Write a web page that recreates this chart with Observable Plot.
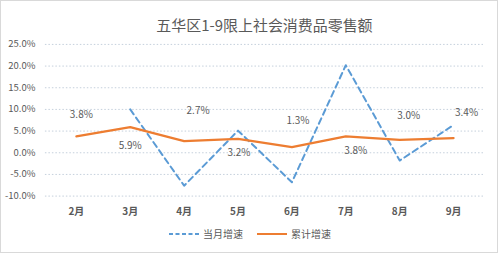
<!DOCTYPE html>
<html><head><meta charset="utf-8">
<script src="https://cdn.jsdelivr.net/npm/d3@7"></script>
<script src="https://cdn.jsdelivr.net/npm/@observablehq/plot@0.6"></script>
<style>
html,body{margin:0;padding:0;background:#fff;}
#wrap{position:relative;width:498px;height:253px;box-sizing:border-box;border:1px solid #d9d9d9;overflow:hidden;font-family:"Noto Sans CJK SC","Noto Sans",sans-serif;}
#chart{position:absolute;left:-1px;top:-1px;}
#legend{position:absolute;left:0;top:225px;width:498px;display:flex;justify-content:center;align-items:center;font-size:10px;color:#595959;}
#legend .item{display:flex;align-items:center;margin:0 7px;}
#legend svg{margin-right:4px;}
</style></head>
<body><div id="wrap"><div id="chart"></div><div id="legend"></div></div>
<script>
const title = "五华区1-9限上社会消费品零售额";
const months = ["2月","3月","4月","5月","6月","7月","8月","9月"];
const monthlyGrowth = [null, 10.0, -7.6, 5.1, -6.8, 20.2, -1.8, 6.4];
const cumulativeGrowth = [3.8, 5.9, 2.7, 3.2, 1.3, 3.8, 3.0, 3.4];
const yTicks = [-10, -5, 0, 5, 10, 15, 20, 25];
const seriesNames = ["当月增速", "累计增速"];
// label placement offsets (styling)
const labelDx = [5, 0, 14, 1, 6, 10, 9, 13];
const labelDy = [-22, 19, -30, 14, -26, 15, -24, -25];

const blue = "#5b9bd5", orange = "#ed7d31", gray = "#595959";
const monthly = months.map((m,i)=>({m, v: monthlyGrowth[i]})).filter(d=>d.v!=null);
const cum = months.map((m,i)=>({m, v: cumulativeGrowth[i], dx: labelDx[i], dy: labelDy[i]}));

const plot = Plot.plot({
  width: 498, height: 253,
  marginTop: 44, marginBottom: 57, marginLeft: 45, marginRight: 14,
  style: {fontFamily: '"Noto Sans CJK SC","Noto Sans",sans-serif', color: gray, background: "transparent"},
  x: {type: "point", domain: months, padding: 0.5, label: null},
  y: {domain: [-10, 25], label: null},
  marks: [
    Plot.ruleY(yTicks, {stroke: "#c5d0dc", strokeDasharray: "1.5,2", strokeWidth: 1}),
    Plot.axisY(yTicks, {tickSize: 0, tickPadding: 10, tickFormat: d => d.toFixed(1) + "%", fontSize: 9.5, fill: gray}),
    Plot.axisX({tickSize: 0, tickPadding: 12, fontSize: 10, fontWeight: "bold", fill: gray}),
    Plot.text([title], {frameAnchor: "top", dy: -24, fontSize: 15, fill: gray}),
    Plot.line(monthly, {x: "m", y: "v", stroke: blue, strokeWidth: 2, strokeDasharray: "6,4"}),
    Plot.line(cum, {x: "m", y: "v", stroke: orange, strokeWidth: 2.25}),
    ...cum.map(d => Plot.text([d], {x: "m", y: "v", text: d => d.v.toFixed(1) + "%", dx: d.dx, dy: d.dy, fontSize: 10, fill: gray}))
  ]
});
document.getElementById("chart").appendChild(plot);

const legend = document.getElementById("legend");
[[seriesNames[0], blue, "4,2.5"], [seriesNames[1], orange, null]].forEach(([name, color, dash]) => {
  const item = document.createElement("div"); item.className = "item";
  item.innerHTML = `<svg width="30" height="6"><line x1="0" y1="3" x2="30" y2="3" stroke="${color}" stroke-width="2" ${dash ? `stroke-dasharray="${dash}"` : ""}/></svg><span>${name}</span>`;
  legend.appendChild(item);
});
</script></body></html>
